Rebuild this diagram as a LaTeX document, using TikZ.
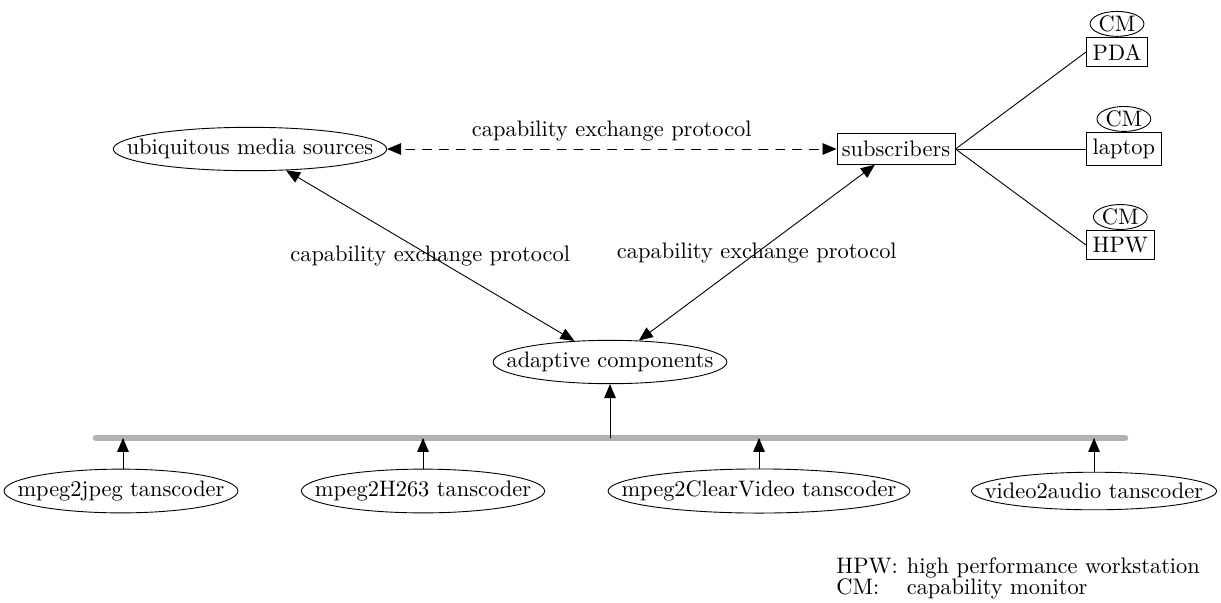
\documentclass[tikz,border=0pt]{standalone}
\usepackage{tikz}
\usetikzlibrary{arrows}
\usetikzlibrary{positioning}
\usetikzlibrary{shapes.geometric}

\begin{document}
\begin{tikzpicture}[line cap=round,line join=round,>=triangle 45,x=0.446pt,y=-0.446pt,
  oval/.style={draw,ellipse,inner ysep=2.4pt,inner xsep={4.24pt-0.1464*\wd\pgfnodeparttextbox}},
  device/.style={draw,rectangle,inner xsep=2.8pt,inner ysep=3pt},
  monitor/.style={draw,ellipse,inner sep=0.3pt},
  bus/.style={line width=3pt,color=black!30}]
\useasboundingbox (0,0) rectangle (1221,602);
% sources, components, subscribers
\node[oval] (src) at (250,149) {ubiquitous media sources};
\node[oval] (adapt) at (610,362) {adaptive components};
\node[draw,inner xsep=2.2pt,inner ysep=3.3pt] (sub) at (896,149) {subscribers};
% devices with their monitors
\node[device,anchor=west] (pda) at (1086,52) {PDA};
\node[device,anchor=west] (laptop) at (1086,149) {laptop};
\node[device,anchor=west] (hpw) at (1086,245) {HPW};
\node[monitor,above=0pt of pda] (cmpda) {CM};
\node[monitor,above=0pt of laptop] (cmlaptop) {CM};
\node[monitor,above=0pt of hpw] (cmhpw) {CM};
% transcoders
\node[oval] (jpeg) at (121,491) {mpeg2jpeg tanscoder};
\node[oval] (h263) at (423,491) {mpeg2H263 tanscoder};
\node[oval] (clear) at (759,491) {mpeg2ClearVideo tanscoder};
\node[oval] (audio) at (1094,491) {video2audio tanscoder};
% legend
\node[anchor=north west,inner sep=0pt] (legend) at (836,557) {\def\arraystretch{0.72}%
  \begin{tabular}{@{}l@{\hspace{4pt}}l@{}}
  HPW: & high performance workstation\\
  CM: & capability monitor
  \end{tabular}};
% bus
\coordinate (busl) at (96,438);
\coordinate (busr) at (1125,438);
\draw[bus] (busl) -- (busr);
\coordinate (bjpeg) at (123,438);
\coordinate (bh263) at (423,438);
\coordinate (bclear) at (759,438);
\coordinate (baudio) at (1094,438);
\coordinate (badapt) at (610,438);
\draw[->] (jpeg.north -| bjpeg) -- (bjpeg);
\draw[->] (h263) -- (bh263);
\draw[->] (clear) -- (bclear);
\draw[->] (audio) -- (baudio);
\draw[->] (badapt) -- (adapt);
% protocols
\draw[<->,dash pattern=on 4pt off 3.5pt] (src) -- node[above] {capability exchange protocol} (sub);
\draw[<->] (src) -- node {capability exchange protocol} (adapt);
\draw[<->] (adapt) -- node {capability exchange protocol} (sub);
\draw (sub.east) -- (pda.west);
\draw (sub.east) -- (laptop.west);
\draw (sub.east) -- (hpw.west);
\end{tikzpicture}
\end{document}
